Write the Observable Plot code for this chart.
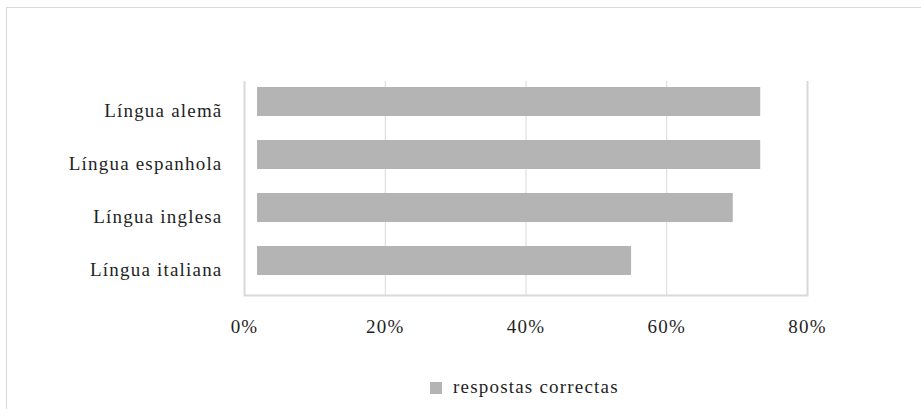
<!DOCTYPE html>
<html>
<head>
<meta charset="utf-8">
<script src="https://cdn.jsdelivr.net/npm/d3@7"></script>
<script src="https://cdn.jsdelivr.net/npm/@observablehq/plot@0.6"></script>
<style>
  html, body { margin: 0; padding: 0; background: #fff; overflow: hidden; width: 921px; height: 409px; }
  #wrap { position: relative; width: 921px; height: 409px; }
  #border { position: absolute; left: 6px; top: 7px; width: 1000px; height: 600px; border: 1px solid #d9d9d9; box-sizing: border-box; }
  #chart { position: absolute; left: 0; top: 0; }
  #legend { position: absolute; left: 430px; top: 376px; display: flex; align-items: center;
    font-family: "Liberation Serif", serif; font-size: 19px; letter-spacing: 1.2px; color: #1f1f1f; }
  #legend .sw { width: 12px; height: 12px; background: #b4b4b4; margin-right: 11px; margin-top: 2px; }
</style>
</head>
<body>
<div id="wrap">
  <div id="border"></div>
  <div id="chart"></div>
  <div id="legend"><span class="sw"></span><span id="legtext"></span></div>
</div>
<script>
const categories = ["Língua alemã", "Língua espanhola", "Língua inglesa", "Língua italiana"];
const barStart = [1.85, 1.85, 1.85, 1.85];
const values = [73.35, 73.35, 69.45, 55.0];
const xTicks = [0, 20, 40, 60, 80];
const seriesName = "respostas correctas";

const data = categories.map((c, i) => ({category: c, start: barStart[i], value: values[i]}));

const chart = Plot.plot({
  width: 921,
  height: 360,
  marginLeft: 244,
  marginRight: 114,
  marginTop: 81,
  marginBottom: 65,
  style: {fontFamily: "Liberation Serif, serif", fontSize: "19px", letterSpacing: "1.2px", color: "#1f1f1f", background: "transparent"},
  x: {domain: [0, 80], ticks: xTicks, label: null},
  y: {domain: categories, paddingInner: 0.458, paddingOuter: 0.229, label: null},
  marks: [
    Plot.gridX([20, 40, 60], {stroke: "#d9d9d9", strokeOpacity: 1, strokeWidth: 1}),
    Plot.ruleX([0, 80], {stroke: "#d9d9d9", strokeWidth: 2}),
    Plot.frame({anchor: "bottom", stroke: "#d9d9d9", strokeWidth: 2}),
    Plot.barX(data, {y: "category", x1: "start", x2: "value", fill: "#b4b4b4", dy: -7}),
    Plot.axisX({ticks: xTicks, tickFormat: d => d + "%", tickSize: 0, tickPadding: 24, fontSize: 19, label: null}),
    Plot.axisY({tickSize: 0, tickPadding: 22, fontSize: 19, dy: 2, label: null})
  ]
});
document.getElementById("chart").appendChild(chart);
document.getElementById("legtext").textContent = seriesName;
</script>
</body>
</html>
